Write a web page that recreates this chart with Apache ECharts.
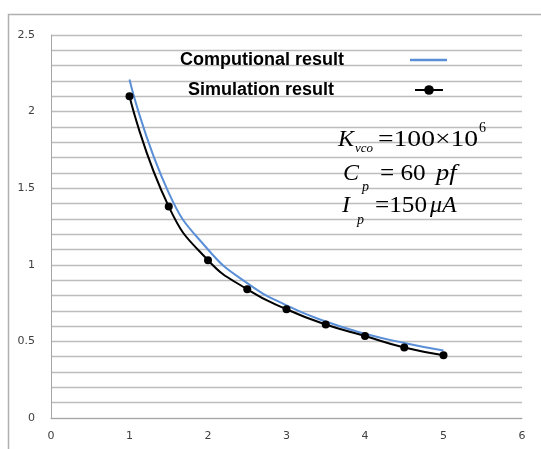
<!DOCTYPE html>
<html>
<head>
<meta charset="utf-8">
<script src="https://cdn.jsdelivr.net/npm/echarts@6/dist/echarts.min.js"></script>
<style>
  html, body { margin: 0; padding: 0; background: #fff; }
  #main { width: 541px; height: 449px; }
</style>
</head>
<body>
<div id="main"></div>
<script>
// data
var xValues = [1, 1.5, 2, 2.5, 3, 3.5, 4, 4.5, 5];
var simulation = [2.10, 1.38, 1.03, 0.84, 0.71, 0.61, 0.535, 0.46, 0.41];
var computational = [2.21, 1.47, 1.10, 0.88, 0.735, 0.63, 0.55, 0.49, 0.44];
var seriesNames = ['Computional result', 'Simulation result'];

function pairs(ys) {
	var out = [];
	for (var i = 0; i < xValues.length; i++) {
		out.push([xValues[i], ys[i]]);
	}
	return out;
}

var chart = echarts.init(document.getElementById('main'));

var serif = 'Liberation Serif';
// pieces of the parameter note, left / center y
function txt(str, x, y, size, italic, sx) {
	return {
		type: 'text',
		x: x, y: y,
		scaleX: sx || 1,
		z: 10,
		style: {
			text: str,
			fontFamily: serif,
			fontSize: size,
			fontStyle: italic ? 'italic' : 'normal',
			fill: '#000',
			verticalAlign: 'middle',
			align: 'left'
		}
	};
}

// legend text with a fixed width so the icon sits far to the right
function legendText(w) {
	return {
		formatter: '{a|{name}}',
		textStyle: {
			rich: {
				a: { width: w, align: 'left', fontFamily: 'Liberation Sans', fontWeight: 'bold', fontSize: 18, color: '#000' }
			}
		}
	};
}

var leg1 = legendText(225);
var leg2 = legendText(222);

var option = {
	animation: false,
	grid: { left: 51, right: 19, top: 35, bottom: 31 },
	xAxis: {
		type: 'value',
		min: 0, max: 6, interval: 1,
		axisLine: { show: true, lineStyle: { color: '#a6a6a6', width: 1 } },
		axisTick: { show: false },
		splitLine: { show: false },
		axisLabel: { color: '#404040', fontSize: 11, fontFamily: 'DejaVu Sans', margin: 13 }
	},
	yAxis: {
		type: 'value',
		min: 0, max: 2.5, interval: 0.5,
		axisLine: { show: true, lineStyle: { color: '#a6a6a6', width: 1 } },
		axisTick: { show: false },
		splitLine: { show: true, lineStyle: { color: '#bdbdbd', width: 1.3 } },
		minorTick: { show: false, splitNumber: 5 },
		minorSplitLine: { show: true, lineStyle: { color: '#bdbdbd', width: 1.3 } },
		axisLabel: { color: '#404040', fontSize: 11, fontFamily: 'DejaVu Sans', margin: 16 }
	},
	legend: [{
		data: [{ name: seriesNames[0], icon: 'rect' }],
		left: 175, top: 46,
		align: 'right',
		itemWidth: 37, itemHeight: 2.5,
		formatter: leg1.formatter,
		textStyle: leg1.textStyle
	}, {
		data: [seriesNames[1]],
		left: 183, top: 76,
		align: 'right',
		itemWidth: 28, itemHeight: 12,
		formatter: leg2.formatter,
		textStyle: leg2.textStyle
	}],
	series: [{
		name: seriesNames[0],
		type: 'line',
		smooth: true,
		symbol: 'none',
		data: pairs(computational),
		lineStyle: { color: '#5a8fd8', width: 2 },
		itemStyle: { color: '#5a8fd8' }
	}, {
		name: seriesNames[1],
		type: 'line',
		smooth: true,
		symbol: 'circle',
		symbolSize: 8,
		data: pairs(simulation),
		lineStyle: { color: '#000', width: 2 },
		itemStyle: { color: '#000' }
	}],
	graphic: [
		{
			type: 'rect',
			shape: { x: 8.5, y: 14.5, width: 600, height: 500 },
			style: { fill: 'none', stroke: '#b0b0b0', lineWidth: 1.5 },
			silent: true
		},
		// K_vco = 100x10^6
		txt('K', 338, 140, 24, true),
		txt('vco', 355, 149, 13, true),
		txt('=100\u00d710', 378, 140, 24, false, 1.15),
		txt('6', 479, 128, 14, false),
		// C_p = 60 pf
		txt('C', 343, 174, 24, true),
		txt('p', 362, 187, 14, true),
		txt('= 60', 380, 174, 24, false, 1.05),
		txt('pf', 436, 174, 24, true, 1.1),
		// I_p = 150 uA
		txt('I', 342, 206, 24, true),
		txt('p', 357, 220, 14, true),
		txt('=150', 375, 206, 24, false, 1.05),
		txt('\u03bcA', 430, 206, 24, true)
	]
};

chart.setOption(option);
</script>
</body>
</html>
